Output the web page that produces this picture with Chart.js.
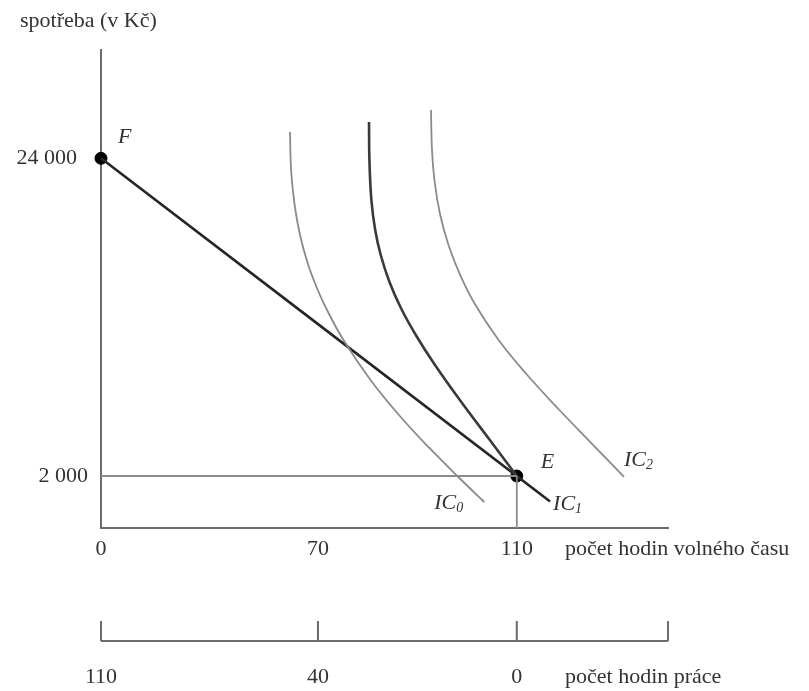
<!DOCTYPE html>
<html>
<head>
<meta charset="utf-8">
<script src="https://cdn.jsdelivr.net/npm/chart.js@4"></script>
<style>
  html, body { margin: 0; padding: 0; background: #fff; }
  #wrap { width: 809px; height: 691px; }
</style>
</head>
<body>
<div id="wrap"><canvas id="laborChart" width="809" height="691"></canvas></div>
<script>
// --- Data (the diagram is not drawn to scale) ---
const xTickPos = [0, 57.4, 110];           // where the ticks sit on the leisure axis
const xTickLabels = ['0', '70', '110'];    // hours of free time
const workTickLabels = ['110', '40', '0']; // hours of work, same positions
const yTickValues = [2000, 24000];
const yTickLabels = ['2 000', '24 000'];

const budgetX = [0, 118.8];
const budgetY = [24000, 240];

const ic0X = [50.0, 50.29, 51.22, 52.65, 54.66, 57.12, 59.79, 64.15, 71.3, 79.05, 86.88, 94.52, 101.38];
const ic0Y = [25822, 23190, 20767, 18689, 16750, 15019, 13496, 11418, 8649, 6156, 3940, 1932, 200];
const ic1X = [70.9, 71.01, 71.53, 72.54, 74.0, 76.32, 79.34, 83.28, 88.36, 95.32, 102.86, 110];
const ic1Y = [26514, 23883, 21113, 19036, 17304, 15435, 13634, 11765, 9687, 7125, 4494, 2000];
const ic2X = [87.3, 87.57, 88.31, 89.74, 91.93, 95.03, 99.07, 105.19, 112.3, 121.27, 130.21, 138.36];
const ic2Y = [27345, 24575, 22290, 20074, 17997, 15919, 13842, 11418, 9133, 6571, 4147, 1932];

const pointF = { x: 0, y: 24000 };
const pointE = { x: 110, y: 2000 };

const zip = (xs, ys) => xs.map((x, i) => ({ x: x, y: ys[i] }));

const SERIF = "'Liberation Serif', 'Times New Roman', serif";
const AXIS_GRAY = '#6b6b6b';
const TEXT = '#333';

// --- Extra text and the second (work hours) axis ---
const extrasPlugin = {
    id: 'extras',
    afterDraw(chart) {
        const ctx = chart.ctx;
        const xs = chart.scales.x;
        const ys = chart.scales.y;
        const area = chart.chartArea;
        ctx.save();
        ctx.fillStyle = TEXT;
        ctx.textBaseline = 'middle';

        // axis titles
        ctx.font = '22px ' + SERIF;
        ctx.textAlign = 'left';
        ctx.fillText('spotřeba (v Kč)', 20, 21);
        ctx.fillText('počet hodin volného času', 565, area.bottom + 21);

        // work hours axis
        const lineY = area.bottom + 113;
        ctx.strokeStyle = AXIS_GRAY;
        ctx.lineWidth = 2;
        ctx.beginPath();
        ctx.moveTo(xs.getPixelForValue(xs.min), lineY);
        ctx.lineTo(xs.getPixelForValue(xs.max), lineY);
        xTickPos.concat([xs.max]).forEach(v => {
            const px = xs.getPixelForValue(v);
            ctx.moveTo(px, lineY);
            ctx.lineTo(px, lineY - 20);
        });
        ctx.stroke();
        ctx.textAlign = 'center';
        workTickLabels.forEach((lab, i) => {
            ctx.fillText(lab, xs.getPixelForValue(xTickPos[i]), lineY + 36);
        });
        ctx.textAlign = 'left';
        ctx.fillText('počet hodin práce', 565, lineY + 36);

        // point labels
        ctx.font = 'italic 22px ' + SERIF;
        const fx = xs.getPixelForValue(pointF.x), fy = ys.getPixelForValue(pointF.y);
        ctx.fillText('F', fx + 17, fy - 21);
        const ex = xs.getPixelForValue(pointE.x), ey = ys.getPixelForValue(pointE.y);
        ctx.fillText('E', ex + 24, ey - 14);

        // indifference curve labels with subscripts
        const drawIC = (sub, px, py) => {
            ctx.font = 'italic 22px ' + SERIF;
            ctx.textAlign = 'left';
            ctx.fillText('IC', px, py);
            const w = ctx.measureText('IC').width;
            ctx.font = 'italic 14px ' + SERIF;
            ctx.fillText(sub, px + w, py + 5);
        };
        const end = (xArr, yArr) => ({
            x: xs.getPixelForValue(xArr[xArr.length - 1]),
            y: ys.getPixelForValue(yArr[yArr.length - 1])
        });
        const e0 = end(ic0X, ic0Y), eb = end(budgetX, budgetY), e2 = end(ic2X, ic2Y);
        drawIC('0', e0.x - 50, e0.y + 1);
        drawIC('1', eb.x + 3, eb.y + 3);
        drawIC('2', e2.x, e2.y - 17);
        ctx.restore();
    }
};

const lineDs = (data, color, width) => ({
    data: data,
    borderColor: color,
    borderWidth: width,
    pointRadius: 0,
    fill: false,
    tension: 0.4,
    clip: false
});

const ctx = document.getElementById('laborChart').getContext('2d');
const laborChart = new Chart(ctx, {
    type: 'line',
    data: {
        datasets: [
            lineDs([{ x: 0, y: pointE.y }, pointE], '#8c8c8c', 1.8),
            lineDs([{ x: pointE.x, y: -1600 }, pointE], '#8c8c8c', 1.8),
            lineDs(zip(ic0X, ic0Y), '#8a8a8a', 1.8),
            lineDs(zip(ic2X, ic2Y), '#8a8a8a', 1.8),
            lineDs(zip(ic1X, ic1Y), '#3a3a3a', 2.6),
            lineDs(zip(budgetX, budgetY), '#262626', 2.6),
            {
                data: [pointF, pointE],
                showLine: false,
                pointRadius: 6,
                pointBackgroundColor: '#000',
                pointBorderColor: '#000',
                clip: false
            }
        ]
    },
    options: {
        responsive: false,
        animation: false,
        layout: { padding: { top: 50, right: 141, bottom: 0, left: 0 } },
        scales: {
            x: {
                type: 'linear',
                min: 0,
                max: 150,
                grid: { display: false, drawTicks: false },
                border: { display: true, color: AXIS_GRAY, width: 2 },
                afterBuildTicks: (scale) => { scale.ticks = xTickPos.map(v => ({ value: v })); },
                afterFit: (scale) => { scale.height = 163; },
                ticks: {
                    color: TEXT,
                    padding: 8,
                    maxRotation: 0,
                    font: { family: SERIF, size: 22 },
                    callback: (val, i) => xTickLabels[i]
                }
            },
            y: {
                type: 'linear',
                min: -1600,
                max: 31500,
                grid: { display: false, drawTicks: false },
                border: { display: true, color: AXIS_GRAY, width: 2 },
                afterBuildTicks: (scale) => { scale.ticks = yTickValues.map(v => ({ value: v })); },
                afterFit: (scale) => { scale.width = 101; },
                ticks: {
                    color: TEXT,
                    padding: 13,
                    font: { family: SERIF, size: 22 },
                    // the upper label sits a bit further from the axis in the original
                    callback: (val, i) => yTickLabels[i] + (i === 1 ? '\u2002' : '')
                }
            }
        },
        plugins: {
            legend: { display: false },
            tooltip: { enabled: false }
        }
    },
    plugins: [extrasPlugin]
});
</script>
</body>
</html>
